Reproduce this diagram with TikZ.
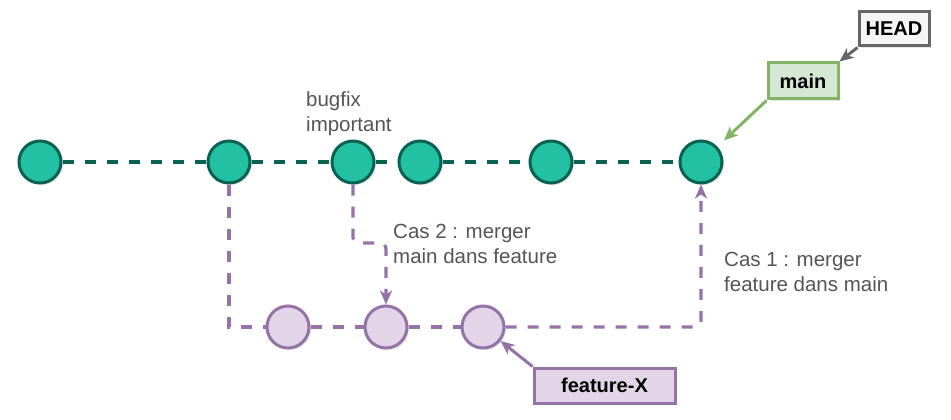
\documentclass[tikz,border=0pt]{standalone}
\usepackage{fontspec}
\setmainfont{Liberation Sans}
\usetikzlibrary{arrows.meta,shadows,calc}
\definecolor{cfill}{HTML}{22C1A4}
\definecolor{cdraw}{HTML}{0A6350}
\definecolor{ffill}{HTML}{E1D5E7}
\definecolor{fdraw}{HTML}{9673A6}
\definecolor{gfill}{HTML}{D5E8D4}
\definecolor{gdraw}{HTML}{82B366}
\definecolor{hfill}{HTML}{F5F5F5}
\definecolor{hdraw}{HTML}{666666}
\definecolor{txt}{HTML}{555555}
\begin{document}
\begin{tikzpicture}[x=1pt,y=-1pt,
  shad/.style={drop shadow={opacity=0.2,shadow xshift=2pt,shadow yshift=-2pt}},
  mc/.style={circle,minimum size=42pt,inner sep=0,fill=cfill,draw=cdraw,line width=3pt,shad},
  fc/.style={circle,minimum size=42pt,inner sep=0,fill=ffill,draw=fdraw,line width=3pt,shad},
  mline/.style={draw=cdraw,line width=3.3pt,dash pattern=on 11pt off 11pt},
  fline/.style={draw=fdraw,line width=3.3pt,dash pattern=on 11pt off 11pt},
  tip/.style={-{Stealth[length=14pt,width=12pt,inset=4pt]}},
  lbl/.style={anchor=north west,inner sep=0,align=left,text=txt,font=\fontsize{20.5}{25}\selectfont},
  tag/.style={inner sep=0,line width=3pt,font=\bfseries\fontsize{20}{24}\selectfont,shad}
]
\useasboundingbox (0,0) rectangle (951,420);
\node[mc] (c1) at (40,162) {};
\node[mc] (c2) at (229,162) {};
\node[mc] (c3) at (353,162) {};
\node[mc] (c4) at (420,162) {};
\node[mc] (c5) at (551,162) {};
\node[mc] (c6) at (701,162) {};
\node[fc] (f1) at (288,327) {};
\node[fc] (f2) at (386,327) {};
\node[fc] (f3) at (483,327) {};
\coordinate (k2) at (370,243);
\draw[mline] (c1) -- (c2);
\draw[mline] (c2) -- (c3);
\draw[mline] (c3) -- (c4);
\draw[mline] (c4) -- (c5);
\draw[mline] (c5) -- (c6);
\draw[fline] (c2.south) |- (f1.west);
\draw[fline] (f1) -- (f2);
\draw[fline] (f2) -- (f3);
\draw[fline,tip,rounded corners=6pt] (f3.east) -| (c6.south);
\draw[fline,tip,rounded corners=6pt] (c3.south) |- (k2) -| (f2.north);
\node[tag,fill=hfill,draw=hdraw,minimum width=70pt,minimum height=34pt] (head) at (894,29) {HEAD};
\node[tag,fill=gfill,draw=gdraw,minimum width=70pt,minimum height=36pt] (main) at (803,81) {main};
\node[tag,fill=ffill,draw=fdraw,minimum width=141pt,minimum height=35pt] (fx) at (604.5,385.5) {feature-X};
\draw[tip,draw=hdraw,line width=3pt] (head.south west) -- (main.north east);
\draw[tip,draw=gdraw,line width=3pt,shorten >=9pt] (main.south west) -- (c6);
\draw[tip,draw=fdraw,line width=3pt] (fx.north west) -- (f3);
\node[lbl] (bug) at (306,91) {bugfix\\important};
\node[lbl] (cas2) at (393,224) {Cas 2 : merger\\main dans feature};
\node[lbl] (cas1) at (724,252) {Cas 1 : merger\\feature dans main};
\end{tikzpicture}
\end{document}
